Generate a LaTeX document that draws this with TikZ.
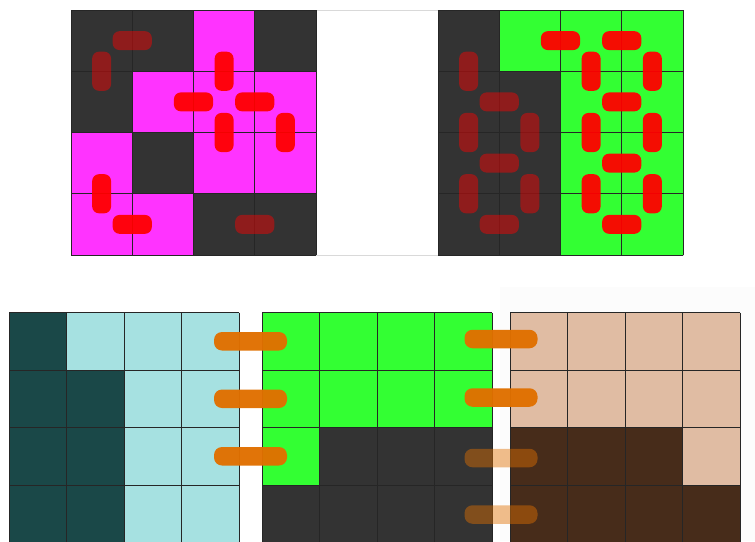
\documentclass[tikz,border=0pt]{standalone}
\definecolor{dk}{HTML}{333333}
\definecolor{pk}{HTML}{FF33FF}
\definecolor{gn}{HTML}{33FF33}
\definecolor{tl}{HTML}{1A4848}
\definecolor{cy}{HTML}{A6E1E1}
\definecolor{tn}{HTML}{E0BCA3}
\definecolor{br}{HTML}{472C1A}
\definecolor{linkorange}{HTML}{E07000}
\begin{document}
\begin{tikzpicture}[x=1pt, y=-1pt,
    gridline/.style={black!85, line width=0.7pt},
    seg/.style={fill=red, fill opacity=0.95, rounded corners=7pt},
    dimseg/.style={seg, fill opacity=0.45},
    link/.style={fill=linkorange, fill opacity=0.97, rounded corners=8pt},
    dimlink/.style={link, fill opacity=0.45}]
    \useasboundingbox (0,0) rectangle (755,541);
    \fill[black!1] (500,287) rectangle (755,541);
    \draw[black!15, fill=white] (71,10) rectangle (683,255);

    \begin{scope}[shift={(71,10)}, scale=61.25]
        \foreach \c [count=\i from 0] in {dk,dk,pk,dk,dk,pk,pk,pk,pk,dk,pk,pk,pk,pk,dk,dk}
            \fill[\c] ({mod(\i,4)},{int(\i/4)}) rectangle ++(1,1);
        \foreach \k in {0,...,4} {
            \draw[gridline] (\k,0) -- (\k,4);
            \draw[gridline] (0,\k) -- (4,\k);
        }
        \foreach \x/\y in {2/1.5,3/1.5,1/3.5}
            \fill[seg] (\x,\y) ++(-0.32,-0.155) rectangle ++(0.64,0.31);
        \foreach \x/\y in {2.5/1,2.5/2,3.5/2,0.5/3}
            \fill[seg] (\x,\y) ++(-0.155,-0.32) rectangle ++(0.31,0.64);
        \foreach \x/\y in {1/0.5,3/3.5}
            \fill[dimseg] (\x,\y) ++(-0.32,-0.155) rectangle ++(0.64,0.31);
        \fill[dimseg] (0.5,1) ++(-0.155,-0.32) rectangle ++(0.31,0.64);
    \end{scope}

    \begin{scope}[shift={(438,10)}, scale=61.25]
        \foreach \c [count=\i from 0] in {dk,gn,gn,gn,dk,dk,gn,gn,dk,dk,gn,gn,dk,dk,gn,gn}
            \fill[\c] ({mod(\i,4)},{int(\i/4)}) rectangle ++(1,1);
        \foreach \k in {0,...,4} {
            \draw[gridline] (\k,0) -- (\k,4);
            \draw[gridline] (0,\k) -- (4,\k);
        }
        \foreach \x/\y in {2/0.5,3/0.5,3/1.5,3/2.5,3/3.5}
            \fill[seg] (\x,\y) ++(-0.32,-0.155) rectangle ++(0.64,0.31);
        \foreach \x/\y in {2.5/1,3.5/1,2.5/2,3.5/2,2.5/3,3.5/3}
            \fill[seg] (\x,\y) ++(-0.155,-0.32) rectangle ++(0.31,0.64);
        \foreach \x/\y in {1/1.5,1/2.5,1/3.5}
            \fill[dimseg] (\x,\y) ++(-0.32,-0.155) rectangle ++(0.64,0.31);
        \foreach \x/\y in {0.5/1,0.5/2,1.5/2,0.5/3,1.5/3}
            \fill[dimseg] (\x,\y) ++(-0.155,-0.32) rectangle ++(0.31,0.64);
    \end{scope}

    \begin{scope}[shift={(9,312.5)}, scale=57.5]
        \foreach \c [count=\i from 0] in {tl,cy,cy,cy,tl,tl,cy,cy,tl,tl,cy,cy,tl,tl,cy,cy}
            \fill[\c] ({mod(\i,4)},{int(\i/4)}) rectangle ++(1,1);
        \foreach \k in {0,...,4} {
            \draw[gridline] (\k,0) -- (\k,4);
            \draw[gridline] (0,\k) -- (4,\k);
        }
    \end{scope}

    \begin{scope}[shift={(262,312.5)}, scale=57.5]
        \foreach \c [count=\i from 0] in {gn,gn,gn,gn,gn,gn,gn,gn,gn,dk,dk,dk,dk,dk,dk,dk}
            \fill[\c] ({mod(\i,4)},{int(\i/4)}) rectangle ++(1,1);
        \foreach \k in {0,...,4} {
            \draw[gridline] (\k,0) -- (\k,4);
            \draw[gridline] (0,\k) -- (4,\k);
        }
    \end{scope}

    \begin{scope}[shift={(510,312.5)}, scale=57.5]
        \foreach \c [count=\i from 0] in {tn,tn,tn,tn,tn,tn,tn,tn,br,br,br,tn,br,br,br,br}
            \fill[\c] ({mod(\i,4)},{int(\i/4)}) rectangle ++(1,1);
        \foreach \k in {0,...,4} {
            \draw[gridline] (\k,0) -- (\k,4);
            \draw[gridline] (0,\k) -- (4,\k);
        }
    \end{scope}

    \foreach \y in {341.25,398.75,456.25}
        \fill[link] (250.5,\y) ++(-36.5,-9.25) rectangle ++(73,18.5);
    \foreach \y in {339,397.5}
        \fill[link] (501,\y) ++(-36.5,-9.25) rectangle ++(73,18.5);
    \foreach \y in {458,514.5}
        \fill[dimlink] (501,\y) ++(-36.5,-9.25) rectangle ++(73,18.5);
\end{tikzpicture}
\end{document}
